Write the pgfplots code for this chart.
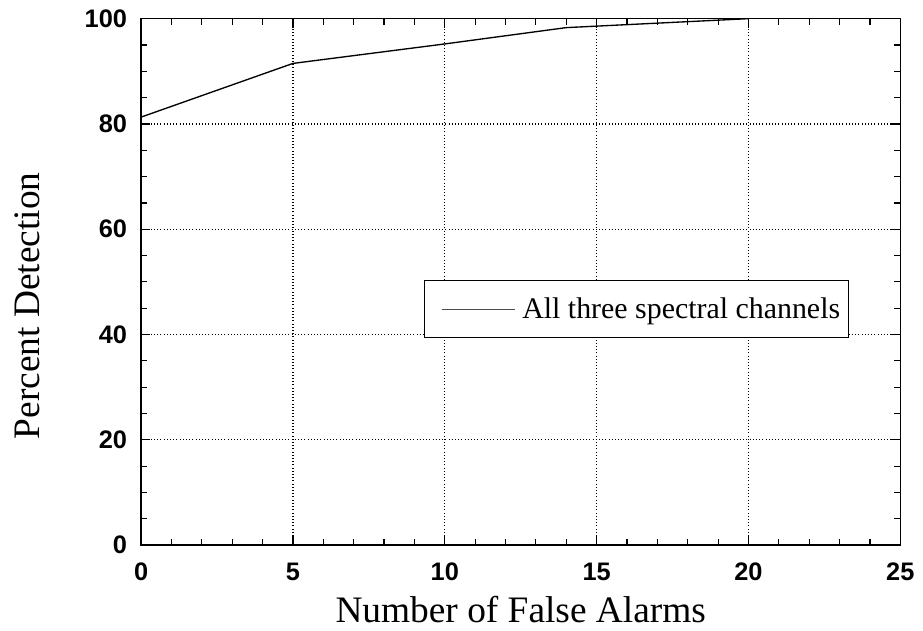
\documentclass[border=0pt]{standalone}
\usepackage{pgfplots}
\pgfplotsset{compat=1.18}
\usepackage{fontspec}
\setmainfont{Liberation Serif}
\newfontfamily\tickfont{Liberation Sans}
\begin{document}
\begin{tikzpicture}
\begin{axis}[
  name=ax,
  scale only axis,
  width=569pt, height=394.5pt,
  xmin=0, xmax=25, ymin=0, ymax=100,
  xtick={0,5,...,25}, ytick={0,20,...,100},
  minor x tick num=4, minor y tick num=3,
  tick align=inside,
  major tick length=7pt, minor tick length=4.5pt,
  xmajorgrids, ymajorgrids,
  grid style={black, dotted, line width=0.9pt},
  axis line style={line width=1.1pt},
  tick style={black, line width=0.9pt},
  /pgf/number format/assume math mode=true,
  ticklabel style={font=\tickfont\bfseries\fontsize{19}{22}\selectfont},
  xticklabel style={yshift=-10pt},
  yticklabel style={xshift=-7pt},
  xlabel={Number of False Alarms},
  ylabel={Percent Detection},
  label style={font=\fontsize{28}{32}\selectfont, inner sep=0pt},
  xlabel style={at={(axis description cs:0.5,-0.1470)}, anchor=base},
  ylabel style={at={(axis description cs:-0.1503,0.4544)}, anchor=center},
  legend style={at={(axis description cs:0.373,0.504)}, anchor=north west, draw=black, line width=0.9pt,
    font=\fontsize{22.4}{26}\selectfont, inner xsep=4.5pt, inner ysep=11pt},
  legend cell align=left,
  legend image code/.code={\path (-7.5pt,0pt) (58pt,0pt); \draw[black!70, line width=0.6pt] (0pt,0pt) -- (55pt,0pt);},
]
\addplot[black, line width=1pt] coordinates {
  (0,81.3) (5,91.5) (10,95.2) (14,98.3) (20,100)
};
\addlegendentry{All three spectral channels}
\end{axis}
\path ([shift={(-105.75pt,-64pt)}]ax.south west) rectangle ([shift={(17pt,14pt)}]ax.north east);
\end{tikzpicture}
\end{document}
